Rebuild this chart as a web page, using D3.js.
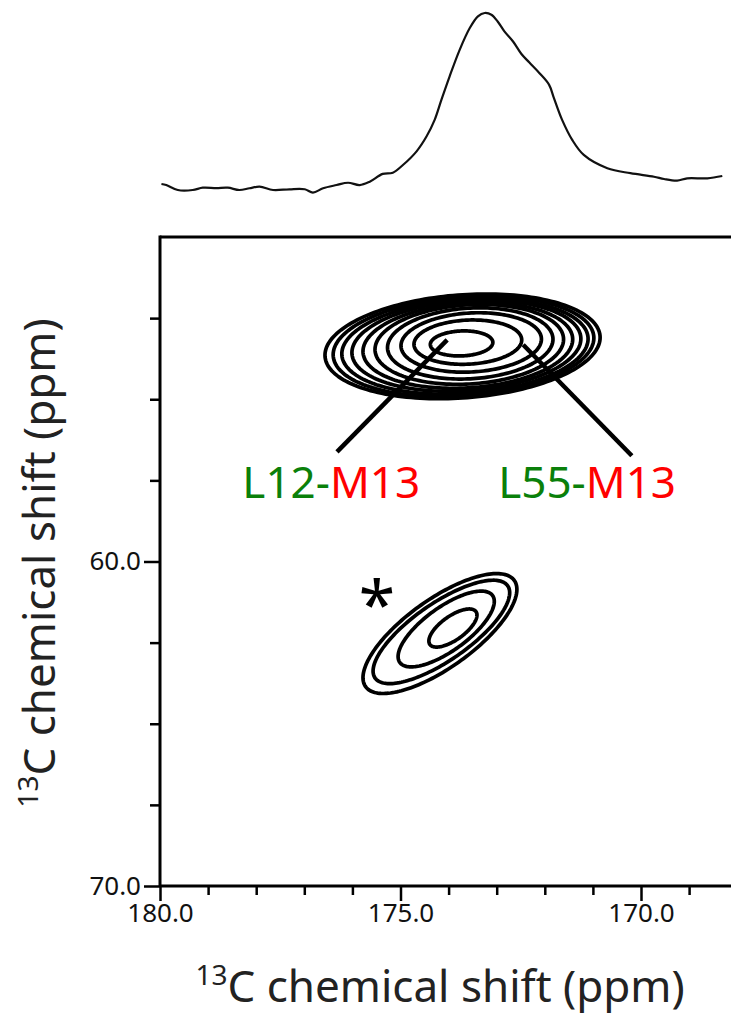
<!DOCTYPE html>
<html>
<head>
<meta charset="utf-8">
<script src="https://cdn.jsdelivr.net/npm/d3@7"></script>
<style>
  html, body { margin: 0; padding: 0; background: #fff; }
  svg { display: block; }
</style>
</head>
<body>
<svg id="chart" width="731" height="1017"></svg>
<script>
// ---- 1D projection trace: chemical shift (ppm) and intensity (a.u.) ----
const specShift = [179.97, 179.87, 179.63, 179.32, 179.11, 178.83, 178.59, 178.35, 178.14, 177.93,
  177.65, 177.31, 176.99, 176.82, 176.61, 176.33, 176.09, 175.85, 175.64, 175.37, 175.16, 174.95,
  174.67, 174.46, 174.29, 174.15, 173.98, 173.77, 173.56, 173.39, 173.25, 173.11, 172.98, 172.84,
  172.66, 172.49, 172.32, 172.11, 171.91, 171.81, 171.64, 171.43, 171.19, 170.70, 170.22, 169.73,
  169.52, 169.25, 169.04, 168.62, 168.31];
const specIntensity = [3.4, 2.8, 0, 0, 1.3, 1.1, 1.3, 0, 1.0, 1.9,
  0, 0.4, 0.4, -1.5, 1.0, 2.8, 4.1, 2.8, 4.7, 9.1, 9.8, 14.1,
  21.7, 30.2, 39.6, 50.9, 64.1, 79.2, 91.5, 98.1, 100, 99.0, 95.2, 89.6,
  83.9, 77.0, 72.0, 66.0, 59.4, 51.9, 39.6, 28.3, 19.8, 12.3, 9.5, 7.5,
  6.2, 5.3, 6.6, 6.6, 7.9];

// ---- 2D contour rings (ppm): centre, half-widths, shear of the cross-peak ----
const mainRings = [
  { cx: 173.71, cy: 53.37, rx: 2.86, ry: 1.59, k: 0.095 },
  { cx: 173.69, cy: 53.37, rx: 2.71, ry: 1.53, k: 0.095 },
  { cx: 173.66, cy: 53.37, rx: 2.56, ry: 1.46, k: 0.09 },
  { cx: 173.63, cy: 53.35, rx: 2.38, ry: 1.39, k: 0.09 },
  { cx: 173.60, cy: 53.34, rx: 2.18, ry: 1.31, k: 0.085 },
  { cx: 173.57, cy: 53.31, rx: 1.96, ry: 1.22, k: 0.08 },
  { cx: 173.55, cy: 53.28, rx: 1.72, ry: 1.09, k: 0.075 },
  { cx: 173.53, cy: 53.25, rx: 1.46, ry: 0.91, k: 0.07 },
  { cx: 173.60, cy: 53.24, rx: 1.12, ry: 0.68, k: 0.06 },
  { cx: 173.73, cy: 53.28, rx: 0.65, ry: 0.385, k: 0.05 }
];
const starRings = [
  { cx: 174.18, cy: 62.22, rx: 1.60, ry: 1.25, k: 0.85 },
  { cx: 174.15, cy: 62.17, rx: 1.42, ry: 1.04, k: 0.85 },
  { cx: 174.05, cy: 62.08, rx: 1.00, ry: 0.80, k: 0.85 },
  { cx: 173.91, cy: 62.05, rx: 0.50, ry: 0.43, k: 0.80 }
];

// ---- assignment labels and leader lines (ppm) ----
const assignments = [
  { res1: "L12-", res2: "M13", from: [174.03, 53.17], to: [176.32, 56.62], labelAt: [176.44, 58.04] },
  { res1: "L55-", res2: "M13", from: [172.45, 53.32], to: [170.19, 56.74], labelAt: [171.12, 58.04] }
];
const starMark = { text: "*", at: [175.49, 62.05] };

// ---- axis ticks ----
const xMajorTicks = [180, 175, 170];
const xMinorTicks = [179, 178, 177, 176, 174, 173, 172, 171, 169];
const yMajorTicks = [60, 70];
const yMinorTicks = [52.5, 55, 57.5, 62.5, 65, 67.5];
const axisTitle = { sup: "13", main: "C chemical shift (ppm)" };

const FONT = "'Noto Sans', 'Open Sans', sans-serif";
const svg = d3.select("#chart");

const x = d3.scaleLinear().domain([180, 170]).range([160, 641]);
const y = d3.scaleLinear().domain([50, 70]).range([237, 886]);
const yi = d3.scaleLinear().domain([0, 100]).range([190, 13]);

// projection trace
svg.append("path")
  .datum(d3.zip(specShift, specIntensity))
  .attr("d", d3.line().x(d => x(d[0])).y(d => yi(d[1])).curve(d3.curveCatmullRom))
  .attr("fill", "none").attr("stroke", "#111").attr("stroke-width", 2.2);

// axes: minor and major ticks drawn separately
const fmt = d3.format(".1f");
const gxMinor = svg.append("g").attr("transform", "translate(0,886)")
  .call(d3.axisBottom(x).tickValues(xMinorTicks).tickSize(9).tickFormat(""));
const gxMajor = svg.append("g").attr("transform", "translate(0,886)")
  .call(d3.axisBottom(x).tickValues(xMajorTicks).tickSize(15).tickPadding(3).tickFormat(fmt));
const gyMinor = svg.append("g").attr("transform", "translate(160,0)")
  .call(d3.axisLeft(y).tickValues(yMinorTicks).tickSize(10).tickFormat(""));
const gyMajor = svg.append("g").attr("transform", "translate(160,0)")
  .call(d3.axisLeft(y).tickValues(yMajorTicks).tickSize(16).tickPadding(3).tickFormat(fmt));
[gxMinor, gxMajor, gyMinor, gyMajor].forEach(g => {
  g.select(".domain").remove();
  g.selectAll(".tick line").attr("stroke", "#000").attr("stroke-width", 2.5);
  g.selectAll(".tick text").attr("fill", "#111").attr("font-family", FONT).attr("font-size", 26);
});

// plot frame (left, top, bottom)
const frame = svg.append("g").attr("stroke", "#000").attr("stroke-width", 3).attr("fill", "none");
frame.append("line").attr("x1", x(180)).attr("x2", x(180)).attr("y1", y(50) - 1.5).attr("y2", y(70));
frame.append("line").attr("x1", x(180)).attr("x2", 731).attr("y1", y(50)).attr("y2", y(50));
frame.append("line").attr("x1", x(180)).attr("x2", 731).attr("y1", y(70)).attr("y2", y(70));

// contour rings
function ringPath(r) {
  const pts = d3.range(0, 360, 2).map(a => {
    const t = a * Math.PI / 180;
    const px = r.cx + r.rx * Math.cos(t);
    const py = r.cy + r.k * r.rx * Math.cos(t) + r.ry * Math.sin(t);
    return [x(px), y(py)];
  });
  return d3.line().curve(d3.curveLinearClosed)(pts);
}
svg.append("g").selectAll("path").data(mainRings.concat(starRings)).join("path")
  .attr("d", ringPath)
  .attr("fill", "none").attr("stroke", "#000").attr("stroke-width", 3.7);

// leader lines and assignment labels
svg.append("g").selectAll("line").data(assignments).join("line")
  .attr("x1", d => x(d.from[0])).attr("y1", d => y(d.from[1]))
  .attr("x2", d => x(d.to[0])).attr("y2", d => y(d.to[1]))
  .attr("stroke", "#000").attr("stroke-width", 4.5);
const labels = svg.append("g").selectAll("text").data(assignments).join("text")
  .attr("x", d => x(d.labelAt[0])).attr("y", d => y(d.labelAt[1]))
  .attr("text-anchor", "middle")
  .attr("font-family", FONT).attr("font-size", 44);
labels.append("tspan").attr("fill", "#0a800a").text(d => d.res1);
labels.append("tspan").attr("fill", "#ff0000").text(d => d.res2);

svg.append("text")
  .attr("x", x(starMark.at[0])).attr("y", y(starMark.at[1]))
  .attr("text-anchor", "middle").attr("font-family", FONT).attr("font-size", 66)
  .attr("fill", "#000").text(starMark.text);

// axis titles
function title(g) {
  g.attr("font-family", FONT).attr("font-size", 44).attr("fill", "#222").attr("text-anchor", "middle");
  g.append("tspan").attr("font-size", 28).attr("dy", -17).text(axisTitle.sup);
  g.append("tspan").attr("dy", 17).text(axisTitle.main);
}
svg.append("text").attr("x", 440).attr("y", 1002).call(title);
svg.append("text").attr("transform", "translate(55,563) rotate(-90)").call(title);
</script>
</body>
</html>
